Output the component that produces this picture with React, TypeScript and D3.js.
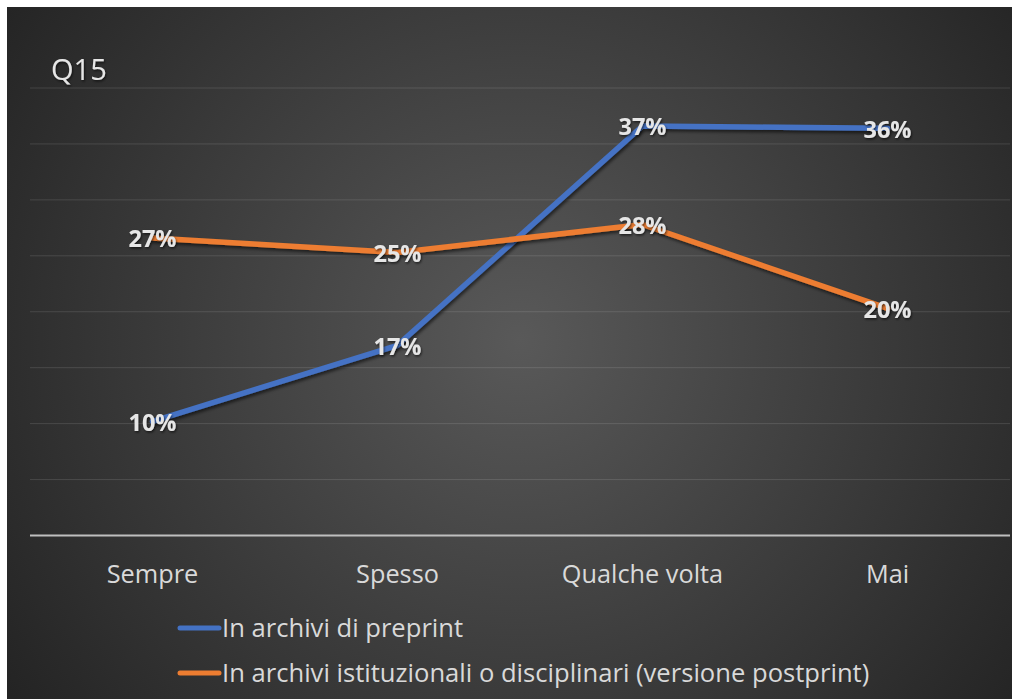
import React from "react";
import * as d3 from "d3";

const categories = ["Sempre", "Spesso", "Qualche volta", "Mai"];
const preprint = [0.102, 0.17, 0.366, 0.364];
const postprint = [0.266, 0.253, 0.278, 0.203];
const seriesNames = [
  "In archivi di preprint",
  "In archivi istituzionali o disciplinari (versione postprint)",
];
const seriesColors = ["#4472C4", "#ED7D31"];
const yTicks = [0, 0.05, 0.1, 0.15, 0.2, 0.25, 0.3, 0.35, 0.4];
const title = "Q15";

const FONT = "'Open Sans', Lato, sans-serif";

export default function App() {
  const W = 1019;
  const H = 699;
  const plotLeft = 30;
  const plotRight = 1010;
  const x = d3.scaleBand<string>().domain(categories).range([plotLeft, plotRight]).padding(0);
  const y = d3.scaleLinear().domain([0, 0.4]).range([535.5, 88]);
  const cx = (c: string) => (x(c) as number) + x.bandwidth() / 2;
  const line = d3
    .line<number>()
    .x((_, i) => cx(categories[i]))
    .y((d) => y(d));
  const fmt = d3.format(".0%");
  const series = [preprint, postprint];

  return (
    <svg
      width={W}
      height={H}
      style={{ position: "absolute", left: 0, top: 0, display: "block" }}
    >
      <defs>
        <radialGradient id="bg" gradientUnits="userSpaceOnUse" cx={520} cy={340} r={620}>
          <stop offset="0" stopColor="#595959" />
          <stop offset="1" stopColor="#242424" />
        </radialGradient>
        <filter id="shadow" x="-20%" y="-20%" width="140%" height="140%">
          <feDropShadow dx="1.5" dy="2.5" stdDeviation="1.8" floodColor="#000" floodOpacity="0.55" />
        </filter>
        <filter id="tshadow" x="-20%" y="-20%" width="140%" height="140%">
          <feDropShadow dx="1" dy="1.5" stdDeviation="1.2" floodColor="#000" floodOpacity="0.6" />
        </filter>
      </defs>
      <rect x={0} y={0} width={W} height={H} fill="#ffffff" />
      <rect x={7} y={7} width={1005} height={H - 7} fill="url(#bg)" />
      <text
        x={51}
        y={80}
        fontFamily={FONT}
        fontSize={29}
        fill="#e6e6e6"
        filter="url(#tshadow)"
      >
        {title}
      </text>
      {yTicks.slice(1).map((t) => (
        <line
          key={t}
          x1={plotLeft}
          x2={plotRight}
          y1={y(t)}
          y2={y(t)}
          stroke="#ffffff"
          strokeOpacity={0.12}
          strokeWidth={1}
        />
      ))}
      <line
        x1={plotLeft}
        x2={plotRight}
        y1={y(0)}
        y2={y(0)}
        stroke="#bfbfbf"
        strokeWidth={2}
      />
      {categories.map((c) => (
        <text
          key={c}
          x={cx(c)}
          y={583}
          textAnchor="middle"
          fontFamily={FONT}
          fontSize={25.3}
          fill="#d9d9d9"
        >
          {c}
        </text>
      ))}
      {series.map((s, i) => (
        <path
          key={i}
          d={line(s) as string}
          fill="none"
          stroke={seriesColors[i]}
          strokeWidth={5.5}
          strokeLinejoin="round"
          strokeLinecap="round"
          filter="url(#shadow)"
        />
      ))}
      {series.map((s, i) =>
        s.map((v, j) => (
          <text
            key={`${i}-${j}`}
            x={cx(categories[j])}
            y={y(v)}
            dy="0.4em"
            textAnchor="middle"
            fontFamily={FONT}
            fontWeight="bold"
            fontSize={23.5}
            fill="#e6e6e6"
            filter="url(#tshadow)"
          >
            {fmt(v)}
          </text>
        ))
      )}
      {seriesNames.map((n, i) => {
        const ly = 628 + i * 45;
        return (
          <g key={n}>
            <line
              x1={180}
              x2={219}
              y1={ly}
              y2={ly}
              stroke={seriesColors[i]}
              strokeWidth={5}
              strokeLinecap="round"
            />
            <text
              x={222}
              y={ly}
              dy="0.35em"
              fontFamily={FONT}
              fontSize={25.6}
              fill="#d9d9d9"
            >
              {n}
            </text>
          </g>
        );
      })}
    </svg>
  );
}
